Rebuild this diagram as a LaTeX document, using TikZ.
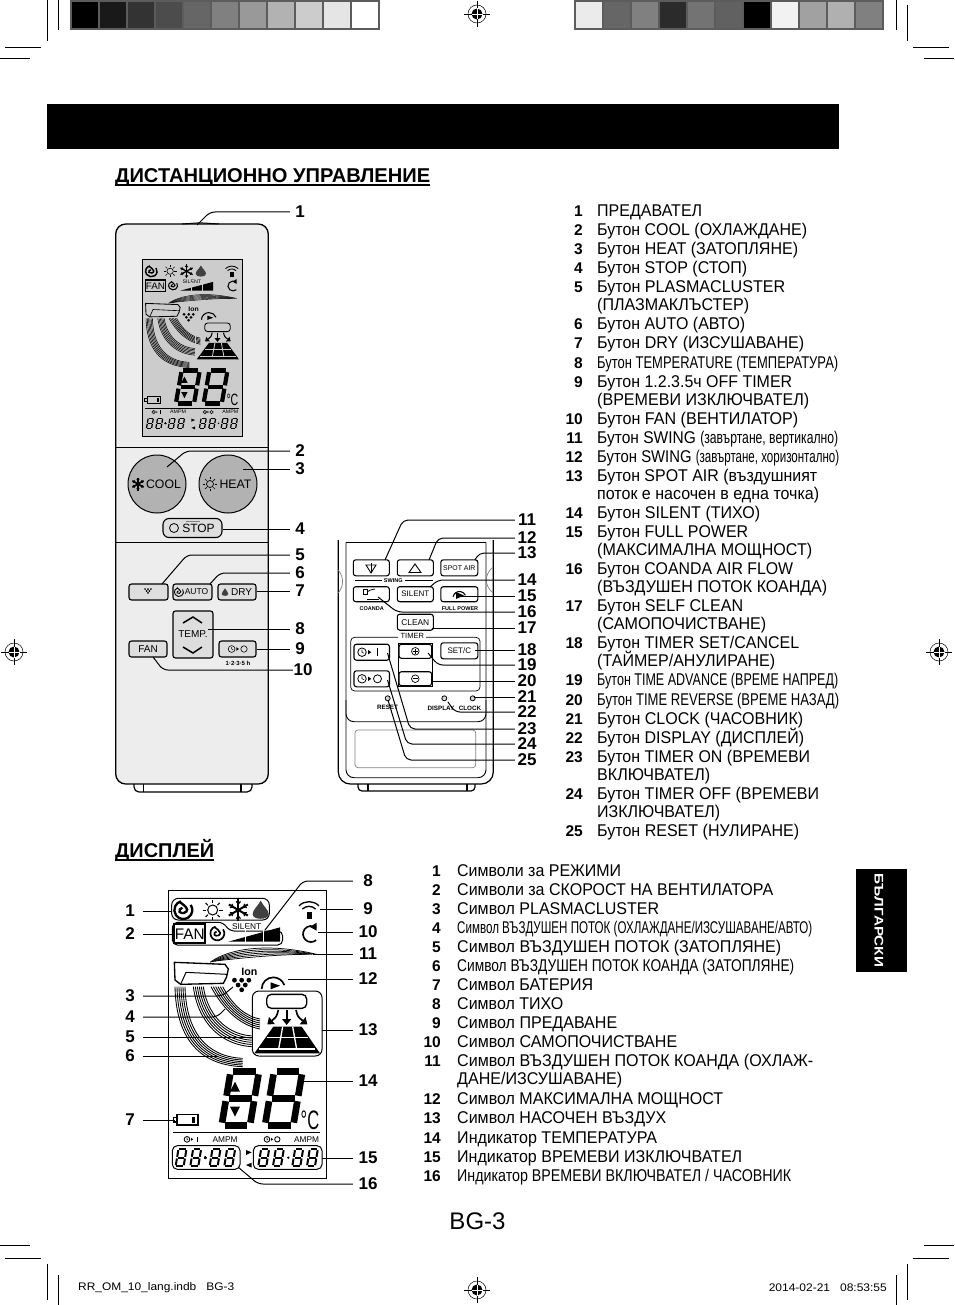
\documentclass[tikz,border=0pt]{standalone}
\usepackage{fontspec}
\setmainfont{Liberation Sans}
\usepackage{graphicx}
\usetikzlibrary{arrows.meta,calc}

\definecolor{bodygray}{gray}{0.93}
\definecolor{lcdgray}{gray}{0.80}
\definecolor{keygray}{gray}{0.87}
\definecolor{roundgray}{gray}{0.70}
\definecolor{barframe}{gray}{0.36}

\tikzset{
	lead/.style={line width=1pt,rounded corners=5pt},
	numlabel/.style={font=\fontsize{17}{17}\bfseries\selectfont,inner sep=0,minimum width=#1,align=center},
	numlabel/.default=24,
	listtext/.style={font=\fontsize{17}{19}\selectfont,inner sep=0,anchor=base west},
	listnum/.style={font=\fontsize{15.5}{19}\bfseries\selectfont,inner sep=0,anchor=base east},
	keybtn/.style={draw,line width=1.1pt,fill=keygray,rounded corners=2.5pt,inner sep=0},
	whitebtn/.style={keybtn,fill=white},
	roundbtn/.style={draw,line width=1pt,fill=roundgray,circle,minimum size=58,inner sep=0},
	keyword/.style={inner sep=0},
	lcdtxt/.style={inner sep=0,transform shape},
	cropline/.style={line width=.6pt},
	hole/.style={draw,line width=.8pt,circle,minimum size=5,inner sep=0,fill=gray!30}
}

\def\sunsym#1#2#3#4{\begin{scope}[shift={(#1,#2)},scale=#3]
	\draw[line width=#4*1pt] (0,0) circle (.5);
	\foreach \a in {0,45,...,315} \draw[line width=#4*1pt] (\a:.68) -- (\a:1);
\end{scope}}
\def\snowsym#1#2#3#4{\begin{scope}[shift={(#1,#2)},scale=#3]
	\foreach \a in {30,90,150} \draw[line width=#4*1pt] (\a:1) -- (\a+180:1);
	\foreach \a in {30,90,...,330} \draw[line width=#4*.6pt] (\a:.55) ++(\a+40:.3) -- (\a:.55) -- ++(\a-40:.3);
\end{scope}}
\def\swirlsym#1#2#3#4{\begin{scope}[shift={(#1,#2)},scale=#3]
	\draw[line width=#4*1pt] (-35:1) arc (-35:255:1);
	\draw[line width=#4*1pt] (-115:1) .. controls (-.1,-.65) and (.35,-.4) .. (.42,-.05) .. controls (.45,.3) and (-.2,.5) .. (-.42,.2) .. controls (-.5,0) and (-.35,-.2) .. (-.1,-.25);
\end{scope}}
\def\dropsym#1#2#3{\begin{scope}[shift={(#1,#2)},scale=#3]
	\fill[black!75] (0,-1.25) .. controls (-.4,-.5) and (-1,-.1) .. (-1,.45) .. controls (-1,1.2) and (1,1.2) .. (1,.45) .. controls (1,-.1) and (.4,-.5) .. (0,-1.25) -- cycle;
\end{scope}}
\def\dotsym#1#2#3{\begin{scope}[shift={(#1,#2)},scale=#3]
	\foreach \px/\py in {-.9/-.6,0/-.6,.9/-.6,-.45/0,.45/0,0/.6} \fill (\px,\py) circle (.3);
\end{scope}}
\def\timersym#1#2#3#4#5{\begin{scope}[shift={(#1,#2)},scale=#3]
	\draw[line width=#4*1pt] (-1.6,0) circle (.85);
	\draw[line width=#4*.7pt] (-1.6,-.5) -- (-1.6,0) -- (-1.2,.2);
	\fill (-.4,-.45) -- (.25,0) -- (-.4,.45) -- cycle;
	\ifnum#5=0 \draw[line width=#4*1.2pt] (1.4,-.8) -- (1.4,.8);
	\else \draw[line width=#4*1pt] (1.5,0) circle (.8); \fi
\end{scope}}
\def\sevenseg#1#2#3#4#5{\begin{scope}[shift={(#1,#2)},xslant=.167,xscale=#3,yscale=#4]
	\foreach \ax/\ay/\bx/\by in {.1/-1/.9/-1,.1/-.5/.9/-.5,.1/0/.9/0,0/-.95/0/-.55,1/-.95/1/-.55,0/-.45/0/-.05,1/-.45/1/-.05}
		\draw[line width=#5*1pt] (\ax,\ay) -- (\bx,\by);
\end{scope}}
\def\regmark#1#2{
	\draw[line width=.5pt] (#1,#2) circle (9);
	\fill (#1,#2) circle (5.5);
	\draw[line width=.7pt] (#1-13,#2) -- (#1+13,#2);
	\draw[line width=.7pt] (#1,#2-13) -- (#1,#2+13);
	\draw[white,line width=.7pt] (#1-5.5,#2) -- (#1+5.5,#2);
	\draw[white,line width=.7pt] (#1,#2-5.5) -- (#1,#2+5.5);
}
\def\rowtext#1#2#3#4{%
	\pgfmathsetmacro{\rowwd}{#3-#1}%
	\node[listtext] (row#1x#2) at (#1,#2+6.5) {\resizebox{\rowwd pt}{\height}{#4}};
}
\def\rownum#1#2#3{\node[listnum] (num#1x#2) at (#1,#2+6.5) {#3};}

% the lcd panel, in the pixels of a 3x crop: #1 line factor, #2 frame colour, #3 fill
\def\lcdart#1#2#3{
	\draw[line width=#1*2pt,fill=#3] (175,75) rectangle (648,940);
	\draw[#2,line width=#1*3pt,rounded corners=#1*20pt] (185,100) rectangle (478,165);
	\draw[#2,line width=#1*3pt,rounded corners=#1*15pt] (187,240) -- (187,172) -- (340,172) -- (358,198) -- (518,198) -- (518,240) -- cycle;
	\swirlsym{220}{135}{27}{#1*7}
	\sunsym{308}{135}{30}{#1*3}
	\snowsym{385}{135}{33}{#1*6}
	\dropsym{452}{137}{24}
	\draw[line width=#1*6pt,fill=#3] (193,178) rectangle (285,235);
	\node[lcdtxt,font=\fontsize{46}{46}\selectfont] (fanword) at (239,207) {FAN};
	\swirlsym{322}{205}{21}{#1*5}
	\node[lcdtxt,font=\fontsize{25}{25}\selectfont] (silentword) at (410,185) {SILENT};
	\fill (355,230) -- (510,187) -- (510,230) -- cycle;
	\foreach \px in {405,460} \draw[#3,line width=#1*3pt] (\px,190) -- (\px,232);
	\draw[line width=#1*4pt] (597,152) ++(-135:28) arc (-135:-45:28);
	\draw[line width=#1*4pt] (597,152) ++(-135:42) arc (-135:-45:42);
	\fill (590,140) rectangle (605,162);
	\draw[line width=#1*5pt] (603,207) ++(-50:24) arc (-50:-310:24);
	\fill (620,173) -- (620,197) -- (600,186) -- cycle;
	% air streams
	\foreach \k in {0,...,5}{
		\draw[line width=#1*2.2pt] ({300+5*\k},{292-\k}) .. controls (360,{248+7*\k}) and (480,{234+7*\k}) .. ({620-7*\k},268);
		\draw[line width=#1*2.6pt] ({303+7*\k},365) .. controls ({335+7*\k},425) and ({385+5*\k},{480-5*\k}) .. (450,{492-6*\k});
		\draw[line width=#1*2.6pt] ({250+6*\k},365) .. controls ({265+6*\k},{480-3*\k}) and ({340+5*\k},{540-6*\k}) .. (425,{545-6.5*\k});
		\draw[line width=#1*2.6pt] ({195+6*\k},365) .. controls ({198+6*\k},{510-3*\k}) and ({260+5*\k},{600-5*\k}) .. (398,{605-5*\k});
	}
	\draw[line width=#1*4pt,fill=#3] (193,292) -- (345,298) -- (355,312) -- (350,335) -- (340,355) -- (212,358) -- (195,345) -- cycle;
	\draw[line width=#1*3pt] (212,358) -- (228,322) -- (352,328);
	\node[lcdtxt,font=\fontsize{32}{32}\bfseries\selectfont] (ionword) at (418,320) {Ion};
	\dotsym{395}{360}{24}
	\draw[line width=#1*5pt] (490,372) ++(-180:35) arc (-180:-20:35);
	\fill (482,352) -- (510,362) -- (482,373) -- cycle;
	% spot air
	\draw[#2,line width=#1*3pt,rounded corners=#1*20pt] (427,378) rectangle (636,573);
	\draw[line width=#1*4pt,rounded corners=#1*14pt] (470,388) rectangle (590,430);
	\draw[line width=#1*5pt,-{Triangle[width=9pt*#1*3,length=6pt*#1*3]}] (530,435) -- (530,480);
	\draw[line width=#1*5pt,-{Triangle[width=9pt*#1*3,length=6pt*#1*3]}] (505,435) .. controls (500,455) .. (472,478);
	\draw[line width=#1*5pt,-{Triangle[width=9pt*#1*3,length=6pt*#1*3]}] (558,435) .. controls (563,455) .. (592,478);
	\fill (490,485) -- (575,485) -- (630,565) -- (433,565) -- cycle;
	\foreach \ax/\ay/\bx/\by in {470/518/595/518,448/552/615/552,518/485/506/552,548/485/560/552}
		\draw[#3,line width=#1*4pt] (\ax,\ay) -- (\bx,\by);
	% digits
	\sevenseg{335}{781}{85}{161}{#1*20}
	\sevenseg{465}{781}{85}{161}{#1*20}
	\fill (360,680) -- (390,680) -- (375,650) -- cycle;
	\fill (360,725) -- (390,725) -- (375,755) -- cycle;
	\node[lcdtxt,font=\fontsize{80}{80}\selectfont] (degword) at (600,765) {\scalebox{.62}[1]{°C}};
	\draw[line width=#1*5pt] (200,748) rectangle (263,780);
	\draw[line width=#1*5pt] (200,757) -- (190,757) -- (190,771) -- (200,771);
	\fill (245,755) rectangle (255,775);
	\draw[line width=#1*4pt] (190,803) -- (630,803);
	\timersym{247}{823}{10}{#1*2.5}{0}
	\timersym{487}{823}{10}{#1*2.5}{1}
	\node[lcdtxt,font=\fontsize{25}{25}\selectfont] (ampmleft) at (345,823) {AMPM};
	\node[lcdtxt,font=\fontsize{25}{25}\selectfont] (ampmright) at (590,823) {AMPM};
	\draw[#2,line width=#1*3pt,rounded corners=#1*15pt] (187,842) rectangle (390,913);
	\draw[#2,line width=#1*3pt,rounded corners=#1*15pt] (430,842) rectangle (636,913);
	\foreach \px in {197,241,299,343,445,489,547,591} \sevenseg{\px}{903}{24}{50}{#1*6}
	\fill (286,878) circle (4);
	\fill (535,878) circle (4);
	\fill (408,855) -- (408,870) -- (425,862) -- cycle;
	\fill (425,893) -- (425,908) -- (408,900) -- cycle;
}

\begin{document}
\begin{tikzpicture}[x=1pt,y=-1pt]
	\useasboundingbox (0,0) rectangle (954,1305);
	%%%%% START %%%%%

	% printer's colour bars and marks
	\fill[barframe] (70,0) rectangle (380,30);
	\foreach \g [count=\i from 0] in {100,90,80,70,60,50,40,30,20,10,0}
		\fill[black!\g] ({72+28*\i},2) rectangle ({97.5+28*\i},28);
	\fill[barframe] (574,0) rectangle (884,30);
	\foreach \g [count=\i from 0] in {8,60,50,83,55,62,100,5,37,31,50}
		\fill[black!\g] ({576+28*\i},2) rectangle ({601.5+28*\i},28);
	\draw[cropline] (47,0) -- (47,41);
	\draw[cropline] (58,0) -- (58,30);
	\draw[cropline] (5,47) -- (41,47);
	\draw[cropline] (0,58) -- (30,58);
	\draw[cropline] (896,0) -- (896,30);
	\draw[cropline] (907,5) -- (907,41);
	\draw[cropline] (913,47) -- (949,47);
	\draw[cropline] (924,58) -- (954,58);
	\draw[cropline] (0,1245) -- (30,1245);
	\draw[cropline] (5,1258) -- (41,1258);
	\draw[cropline] (47,1264) -- (47,1300);
	\draw[cropline] (58,1275) -- (58,1305);
	\draw[cropline] (924,1245) -- (954,1245);
	\draw[cropline] (913,1258) -- (949,1258);
	\draw[cropline] (896,1275) -- (896,1305);
	\draw[cropline] (907,1264) -- (907,1300);
	\regmark{477}{14}
	\regmark{477}{1290}
	\regmark{14}{652}
	\regmark{939}{652}

	\fill (47,104) rectangle (839,149);
	\fill (856,869) rectangle (907,972);
	\node[rotate=-90,text=white,inner sep=0,font=\fontsize{12.5}{12.5}\bfseries\selectfont] (tabword) at (879,920) {\resizebox{94pt}{\height}{БЪЛГАРСКИ}};

	\node[inner sep=0,anchor=base west,font=\fontsize{20}{20}\bfseries\selectfont] (headremote) at (115,182.5) {\resizebox{315pt}{\height}{ДИСТАНЦИОННО УПРАВЛЕНИЕ}};
	\draw[line width=1.3pt] (115,185) -- (430,185);
	\node[inner sep=0,anchor=base west,font=\fontsize{20}{20}\bfseries\selectfont] (headlcd) at (115,857) {\resizebox{99pt}{\height}{ДИСПЛЕЙ}};
	\draw[line width=1.3pt] (115,860) -- (214,860);

	% front of the remote
	\draw[line width=1.2pt,rounded corners=5pt] (134,784) -- (134,792) -- (252,792) -- (252,784);
	\draw[line width=1.2pt] (143.5,784) -- (143.5,792);
	\draw[line width=1.2pt] (241,784) -- (241,792);
	\draw[line width=1.3pt,fill=bodygray,rounded corners=10pt] (115.7,224) rectangle (268.3,784);
	\draw[line width=1pt] (115.7,447) -- (268.3,447);
	\draw[line width=1pt] (115.7,542) -- (268.3,542);
	\draw[line width=1pt] (182,224) -- (200,222.8) -- (219,224);

	\begin{scope}[shift={(104.4,243.6)},xscale=.2134,yscale=.2047]
		\lcdart{.21}{lcdgray}{lcdgray}
	\end{scope}

	\node[roundbtn] (coolbtn) at (157,484) {};
	\node[roundbtn] (heatbtn) at (228,484) {};
	\snowsym{138}{484}{6.5}{1.6}
	\sunsym{210}{484}{7}{.7}
	\node[keyword,font=\fontsize{12.3}{12}\selectfont] (coolword) at (163.5,484) {COOL};
	\node[keyword,font=\fontsize{12.3}{12}\selectfont] (heatword) at (235.5,484) {HEAT};
	\node[keybtn,rounded corners=6pt,minimum width=59,minimum height=19] (stopbtn) at (192.5,528) {};
	\draw[gray,line width=.7pt] (186,521) -- (200,521);
	\draw[line width=.8pt] (174,528) circle (4.5);
	\node[keyword,font=\fontsize{12}{12}\selectfont] (stopword) at (198.5,528.5) {STOP};
	\node[keybtn,minimum width=39,minimum height=16] (plasmabtn) at (148.5,592) {};
	\dotsym{148}{591}{3.2}
	\node[keybtn,minimum width=39,minimum height=16] (autobtn) at (192.5,592) {};
	\swirlsym{179}{592}{4.5}{.9}
	\node[keyword,font=\fontsize{8.5}{8}\selectfont] (autoword) at (196.5,592) {AUTO};
	\node[keybtn,minimum width=38,minimum height=16] (drybtn) at (237,592) {};
	\dropsym{225}{592.5}{3.3}
	\node[keyword,font=\fontsize{10}{10}\selectfont] (dryword) at (241.5,592) {DRY};
	\node[keybtn,minimum width=40,minimum height=47] (tempbtn) at (193,634.5) {};
	\draw[line width=1.5pt] (183,623) -- (193,617) -- (202,623);
	\draw[line width=1.5pt] (183,647) -- (193,653) -- (202,647);
	\node[keyword,font=\fontsize{10}{10}\selectfont] (tempword) at (193,634.5) {TEMP.};
	\node[keybtn,minimum width=38,minimum height=16] (fanbtn) at (148,649) {};
	\node[keyword,font=\fontsize{10}{10}\selectfont] (fanword) at (148,649) {FAN};
	\node[keybtn,minimum width=37,minimum height=16] (timerbtn) at (237.5,649) {};
	\timersym{238}{649}{4}{.6}{1}
	\node[keyword,font=\fontsize{6}{6}\bfseries\selectfont] (hoursword) at (238,663) {1·2·3·5 h};

	% the open lid of the remote
	\draw[line width=1.2pt,rounded corners=4pt] (358,784) -- (358,791) -- (475,791) -- (475,784);
	\draw[line width=1.2pt] (368,784) -- (368,791);
	\draw[line width=1.2pt] (467,784) -- (467,791);
	\draw[line width=1.2pt,rounded corners=12pt] (338.3,540) -- (338.3,784) -- (493.3,784) -- (493.3,540);
	\draw[line width=.9pt,rounded corners=8pt] (346,542.3) -- (346,721.7) -- (486,721.7) -- (486,542.3);
	\draw[line width=.9pt] (346,542.3) -- (486,542.3);
	\draw[line width=.9pt,rounded corners=8pt] (346,700) -- (346,777.7) -- (486,777.7) -- (486,700);
	\draw[gray,line width=.7pt,rounded corners=3pt] (355,730) rectangle (475.7,767.7);
	\draw[gray,line width=.7pt] (338.3,570) .. controls (344,578) and (344,585) .. (338.3,593);
	\draw[gray,line width=.7pt] (493,567) .. controls (484,575) and (484,585) .. (493,593);

	\node[whitebtn,minimum width=36,minimum height=16] (swingvbtn) at (371.3,567.8) {};
	\draw[line width=.9pt] (366,565) -- (376,565) -- (371,573) -- cycle;
	\draw[line width=.9pt] (371,562.5) -- (371,573);
	\node[whitebtn,minimum width=36,minimum height=16] (swinghbtn) at (415.3,567.8) {};
	\draw[line width=.9pt] (409,572.5) -- (421,572.5) -- (415,564) -- cycle;
	\node[whitebtn,minimum width=37,minimum height=16,font=\fontsize{6.9}{7}\selectfont] (spotbtn) at (459.3,567.8) {SPOT AIR};
	\node[keyword,font=\fontsize{5.5}{6}\bfseries\selectfont] (swingword) at (393.3,580.7) {SWING};
	\draw[line width=.6pt] (355,580.7) -- (382,580.7);
	\draw[line width=.6pt] (405,580.7) -- (433,580.7);
	\node[whitebtn,minimum width=36,minimum height=15] (coandabtn) at (371.3,594.2) {};
	\draw[line width=.8pt] (363,589) rectangle (367,594);
	\draw[line width=.8pt] (367,592) .. controls (370,590) .. (375,589);
	\draw[line width=.8pt] (367,599) -- (379,599);
	\node[whitebtn,minimum width=36,minimum height=15,font=\fontsize{8}{8}\selectfont] (silentbtn) at (415.3,594.2) {SILENT};
	\node[whitebtn,minimum width=37,minimum height=15] (fullbtn) at (459.3,594.2) {};
	\draw[line width=1.1pt] (459.5,598) ++(-170:6.5) arc (-170:-25:6.5);
	\fill (456,592) -- (464,595.5) -- (456,599) -- cycle;
	\node[keyword,font=\fontsize{5.5}{6}\bfseries\selectfont] (coandaword) at (371.7,609) {COANDA};
	\node[keyword,font=\fontsize{5.5}{6}\bfseries\selectfont] (fullword) at (460,609) {FULL POWER};
	\node[whitebtn,minimum width=36,minimum height=16,font=\fontsize{8.4}{8}\selectfont] (cleanbtn) at (415.3,622.2) {CLEAN};
	\draw[line width=.7pt,rounded corners=4pt] (398,637.3) -- (350.7,637.3) -- (350.7,691) -- (480,691) -- (480,637.3) -- (426,637.3);
	\node[keyword,font=\fontsize{7.5}{8}\selectfont] (timerword) at (412.3,635.7) {TIMER};
	\node[whitebtn,minimum width=35.5,minimum height=16] (timeronbtn) at (371.7,652.2) {};
	\timersym{370}{652.2}{5}{.8}{0}
	\node[whitebtn,minimum width=35.5,minimum height=16] (timeroffbtn) at (371.7,678.8) {};
	\timersym{370}{678.8}{5}{.8}{1}
	\draw[line width=1.2pt] (398.3,643.3) rectangle (432.3,686.7);
	\node[whitebtn,minimum width=32.7,minimum height=14] (plusbtn) at (415.3,651.3) {};
	\node[whitebtn,minimum width=32.7,minimum height=14] (minusbtn) at (415.3,678.7) {};
	\draw[line width=.7pt] (415.3,651.3) circle (3.8);
	\draw[line width=.7pt] (415.3,678.7) circle (3.8);
	\draw[line width=.7pt] (412.5,651.3) -- (418.1,651.3);
	\draw[line width=.7pt] (415.3,648.5) -- (415.3,654.1);
	\draw[line width=.7pt] (412.5,678.7) -- (418.1,678.7);
	\node[whitebtn,minimum width=37,minimum height=16,font=\fontsize{8}{8}\selectfont] (setbtn) at (459.3,650.8) {SET/C};
	\node[hole] (resethole) at (387.7,698.3) {};
	\node[hole] (displayhole) at (444.3,698.3) {};
	\node[hole] (clockhole) at (472.7,698.3) {};
	\node[keyword,font=\fontsize{6.3}{6}\bfseries\selectfont] (resetword) at (387.5,707.5) {RESET};
	\node[keyword,font=\fontsize{6.3}{6}\bfseries\selectfont] (displayword) at (441,708) {DISPLAY};
	\node[keyword,font=\fontsize{6.3}{6}\bfseries\selectfont] (clockword) at (470,708) {CLOCK};

	% the big lcd
	\begin{scope}[shift={(110,865)},scale=1/3]
		\lcdart{.333}{black}{white}
	\end{scope}

	% labels of the front and the lid
	\foreach \n/\px/\py in {1/300/212,2/300/451,3/300/469,4/300/529,5/300/555,6/300/573,7/300/591,8/300/629,9/300/649,10/303/670}
		\node[numlabel=20] (fr\n) at (\px,\py) {\n};
	\foreach \n/\py in {11/520,12/538,13/553,14/580,15/596,16/612,17/628,18/650,19/665,20/681,21/697,22/712,23/729,24/744,25/760}
		\node[numlabel=24] (ld\n) at (527,\py) {\n};
	% labels of the lcd
	\foreach \n/\py in {1/911,2/934,3/996,4/1017,5/1037,6/1056,7/1120}
		\node[numlabel=26] (ll\n) at (130,\py) {\n};
	\foreach \n/\py in {8/881,9/909,10/932,11/954,12/979,13/1030,14/1081,15/1158,16/1184}
		\node[numlabel=30] (lr\n) at (368,\py) {\n};

	% free ends of the leaders
	\coordinate (ea) at (197,225);
	\coordinate (eb) at (167,467);
	\coordinate (ec) at (243,469);
	\coordinate (ed) at (162,584);
	\coordinate (ee) at (210,584);
	\coordinate (ef) at (208,630);
	\coordinate (eg) at (153,657);
	\coordinate (la) at (385,560);
	\coordinate (lb) at (429,560);
	\coordinate (lc) at (475,560);
	\coordinate (ld) at (430,587);
	\coordinate (le) at (470,596);
	\coordinate (lf) at (378,597);
	\coordinate (lg) at (431.5,626.7);
	\coordinate (lh) at (475,650.7);
	\coordinate (li) at (428,653);
	\coordinate (lj) at (431,681.7);
	\coordinate (lk) at (474,698.3);
	\coordinate (lm) at (448,702);
	\coordinate (ln) at (387.5,653);
	\coordinate (lo) at (387.5,680);
	\coordinate (lp) at (388,700);
	\coordinate (ma) at (172,910);
	\coordinate (mb) at (172,935);
	\coordinate (mc) at (233,987);
	\coordinate (md) at (225,1009);
	\coordinate (me) at (253,1036);
	\coordinate (mf) at (217,1055);
	\coordinate (mg) at (175,1120);
	\coordinate (na) at (265,930);
	\coordinate (nb) at (320,910);
	\coordinate (nc) at (318,933);
	\coordinate (nd) at (313,954);
	\coordinate (ne) at (288,980);
	\coordinate (nf) at (322,1030);
	\coordinate (ng) at (298,1082);
	\coordinate (nh) at (322,1158);
	\coordinate (ni) at (238,1167);

	% leaders with a bend: free end, label, x of the bend
	\foreach \e/\l/\bx in {ea/fr1/210,eb/fr2/186,ed/fr5/187,ee/fr6/220,
		eg/fr10/163,la/ld11/403,lb/ld12/438,lc/ld13/479,ld/ld14/438,lf/ld16/397,li/ld19/438,lm/ld22/455,ln/ld23/410,lo/ld24/407,lp/ld25/406,
		na/lr8/303,ni/lr16/258}
		\draw[lead] (\e) -- (\bx,0 |- \l.west) -- (\l.west);
	\foreach \e/\l/\bx in {mc/ll3/222,md/ll4/217}
		\draw[lead] (\e) -- (\bx,0 |- \l.east) -- (\l.east);
	% straight leaders
	\foreach \e/\l in {ec/fr3,stopbtn.east/fr4,drybtn.east/fr7,ef/fr8,timerbtn.east/fr9,fullbtn.center/ld15,lg/ld17,lh/ld18,lj/ld20,lk/ld21,
		nb/lr9,nc/lr10,nd/lr11,ne/lr12,nf/lr13,ng/lr14,nh/lr15}
		\draw[lead] (\e |- \l.west) -- (\l.west);
	\foreach \e/\l in {ma/ll1,mb/ll2,me/ll5,mf/ll6,mg/ll7}
		\draw[lead] (\e |- \l.east) -- (\l.east);

	% list of the buttons
	\rownum{583}{210}{1}\rowtext{597}{210}{702}{ПРЕДАВАТЕЛ}
	\rownum{583}{229}{2}\rowtext{597}{229}{807}{Бутон COOL (ОХЛАЖДАНЕ)}
	\rownum{583}{248}{3}\rowtext{597}{248}{798}{Бутон HEAT (ЗАТОПЛЯНЕ)}
	\rownum{583}{267}{4}\rowtext{597}{267}{747}{Бутон STOP (СТОП)}
	\rownum{583}{286}{5}\rowtext{597}{286}{785}{Бутон PLASMACLUSTER}
	\rowtext{597}{304}{749}{(ПЛАЗМАКЛЪСТЕР)}
	\rownum{583}{323}{6}\rowtext{597}{323}{745}{Бутон AUTO (АВТО)}
	\rownum{583}{342}{7}\rowtext{597}{342}{804}{Бутон DRY (ИЗСУШАВАНЕ)}
	\rownum{583}{362}{8}\rowtext{597}{362}{838}{Бутон TEMPERATURE (ТЕМПЕРАТУРА)}
	\rownum{583}{381}{9}\rowtext{597}{381}{792}{Бутон 1.2.3.5ч OFF TIMER}
	\rowtext{597}{399}{809}{(ВРЕМЕВИ ИЗКЛЮЧВАТЕЛ)}
	\rownum{583}{418}{10}\rowtext{597}{418}{798}{Бутон FAN (ВЕНТИЛАТОР)}
	\rownum{583}{437}{11}\rowtext{597}{437}{838}{Бутон SWING \resizebox{151pt}{\height}{(завъртане, вертикално)}}
	\rownum{583}{456}{12}\rowtext{597}{456}{839}{Бутон SWING \resizebox{164pt}{\height}{(завъртане, хоризонтално)}}
	\rownum{583}{475}{13}\rowtext{597}{475}{817}{Бутон SPOT AIR (въздушният}
	\rowtext{597}{493}{819}{поток е насочен в една точка)}
	\rownum{583}{512}{14}\rowtext{597}{512}{760}{Бутон SILENT (ТИХО)}
	\rownum{583}{531}{15}\rowtext{597}{531}{748}{Бутон FULL POWER}
	\rowtext{597}{549}{812}{(МАКСИМАЛНА МОЩНОСТ)}
	\rownum{583}{568}{16}\rowtext{597}{568}{793}{Бутон COANDA AIR FLOW}
	\rowtext{597}{586}{827}{(ВЪЗДУШЕН ПОТОК КОАНДА)}
	\rownum{583}{605}{17}\rowtext{597}{605}{743}{Бутон SELF CLEAN}
	\rowtext{597}{623}{766}{(САМОПОЧИСТВАНЕ)}
	\rownum{583}{642}{18}\rowtext{597}{642}{799}{Бутон TIMER SET/CANCEL}
	\rowtext{597}{660}{775}{(ТАЙМЕР/АНУЛИРАНЕ)}
	\rownum{583}{679}{19}\rowtext{597}{679}{838}{Бутон TIME ADVANCE (ВРЕМЕ НАПРЕД)}
	\rownum{583}{699}{20}\rowtext{597}{699}{839}{Бутон TIME REVERSE (ВРЕМЕ НАЗАД)}
	\rownum{583}{718}{21}\rowtext{597}{718}{803}{Бутон CLOCK (ЧАСОВНИК)}
	\rownum{583}{737}{22}\rowtext{597}{737}{804}{Бутон DISPLAY (ДИСПЛЕЙ)}
	\rownum{583}{756}{23}\rowtext{597}{756}{810}{Бутон TIMER ON (ВРЕМЕВИ}
	\rowtext{597}{774}{710}{ВКЛЮЧВАТЕЛ)}
	\rownum{583}{793}{24}\rowtext{597}{793}{819}{Бутон TIMER OFF (ВРЕМЕВИ}
	\rowtext{597}{811}{720}{ИЗКЛЮЧВАТЕЛ)}
	\rownum{583}{830}{25}\rowtext{597}{830}{799}{Бутон RESET (НУЛИРАНЕ)}

	% list of the symbols
	\rownum{441}{870}{1}\rowtext{457}{870}{621}{Символи за РЕЖИМИ}
	\rownum{441}{889}{2}\rowtext{457}{889}{773}{Символи за СКОРОСТ НА ВЕНТИЛАТОРА}
	\rownum{441}{908}{3}\rowtext{457}{908}{659}{Символ PLASMACLUSTER}
	\rownum{441}{927}{4}\rowtext{457}{927}{812}{Символ ВЪЗДУШЕН ПОТОК (ОХЛАЖДАНЕ/ИЗСУШАВАНЕ/АВТО)}
	\rownum{441}{946}{5}\rowtext{457}{946}{781}{Символ ВЪЗДУШЕН ПОТОК (ЗАТОПЛЯНЕ)}
	\rownum{441}{965}{6}\rowtext{457}{965}{794}{Символ ВЪЗДУШЕН ПОТОК КОАНДА (ЗАТОПЛЯНЕ)}
	\rownum{441}{984}{7}\rowtext{457}{984}{593}{Символ БАТЕРИЯ}
	\rownum{441}{1003}{8}\rowtext{457}{1003}{563}{Символ ТИХО}
	\rownum{441}{1022}{9}\rowtext{457}{1022}{617}{Символ ПРЕДАВАНЕ}
	\rownum{441}{1041}{10}\rowtext{457}{1041}{677}{Символ САМОПОЧИСТВАНЕ}
	\rownum{441}{1060}{11}\rowtext{457}{1060}{813}{Символ ВЪЗДУШЕН ПОТОК КОАНДА (ОХЛАЖ-}
	\rowtext{457}{1078}{622}{ДАНЕ/ИЗСУШАВАНЕ)}
	\rownum{441}{1098}{12}\rowtext{457}{1098}{723}{Символ МАКСИМАЛНА МОЩНОСТ}
	\rownum{441}{1117}{13}\rowtext{457}{1117}{666}{Символ НАСОЧЕН ВЪЗДУХ}
	\rownum{441}{1137}{14}\rowtext{457}{1137}{657}{Индикатор ТЕМПЕРАТУРА}
	\rownum{441}{1156}{15}\rowtext{457}{1156}{742}{Индикатор ВРЕМЕВИ ИЗКЛЮЧВАТЕЛ}
	\rownum{441}{1175}{16}\rowtext{457}{1175}{791}{Индикатор ВРЕМЕВИ ВКЛЮЧВАТЕЛ / ЧАСОВНИК}

	\node[inner sep=0,font=\fontsize{24}{24}\selectfont] (pageword) at (477.5,1221) {BG-3};
	\node[inner sep=0,anchor=west,font=\fontsize{11}{11}\selectfont] (footleft) at (78,1288) {\resizebox{156pt}{\height}{RR\_OM\_10\_lang.indb\ \ \ BG-3}};
	\node[inner sep=0,anchor=east,font=\fontsize{11}{11}\selectfont] (footright) at (887,1288) {\resizebox{118pt}{\height}{2014-02-21\ \ \ 08:53:55}};

	%%%%% END %%%%%
\end{tikzpicture}
\end{document}
